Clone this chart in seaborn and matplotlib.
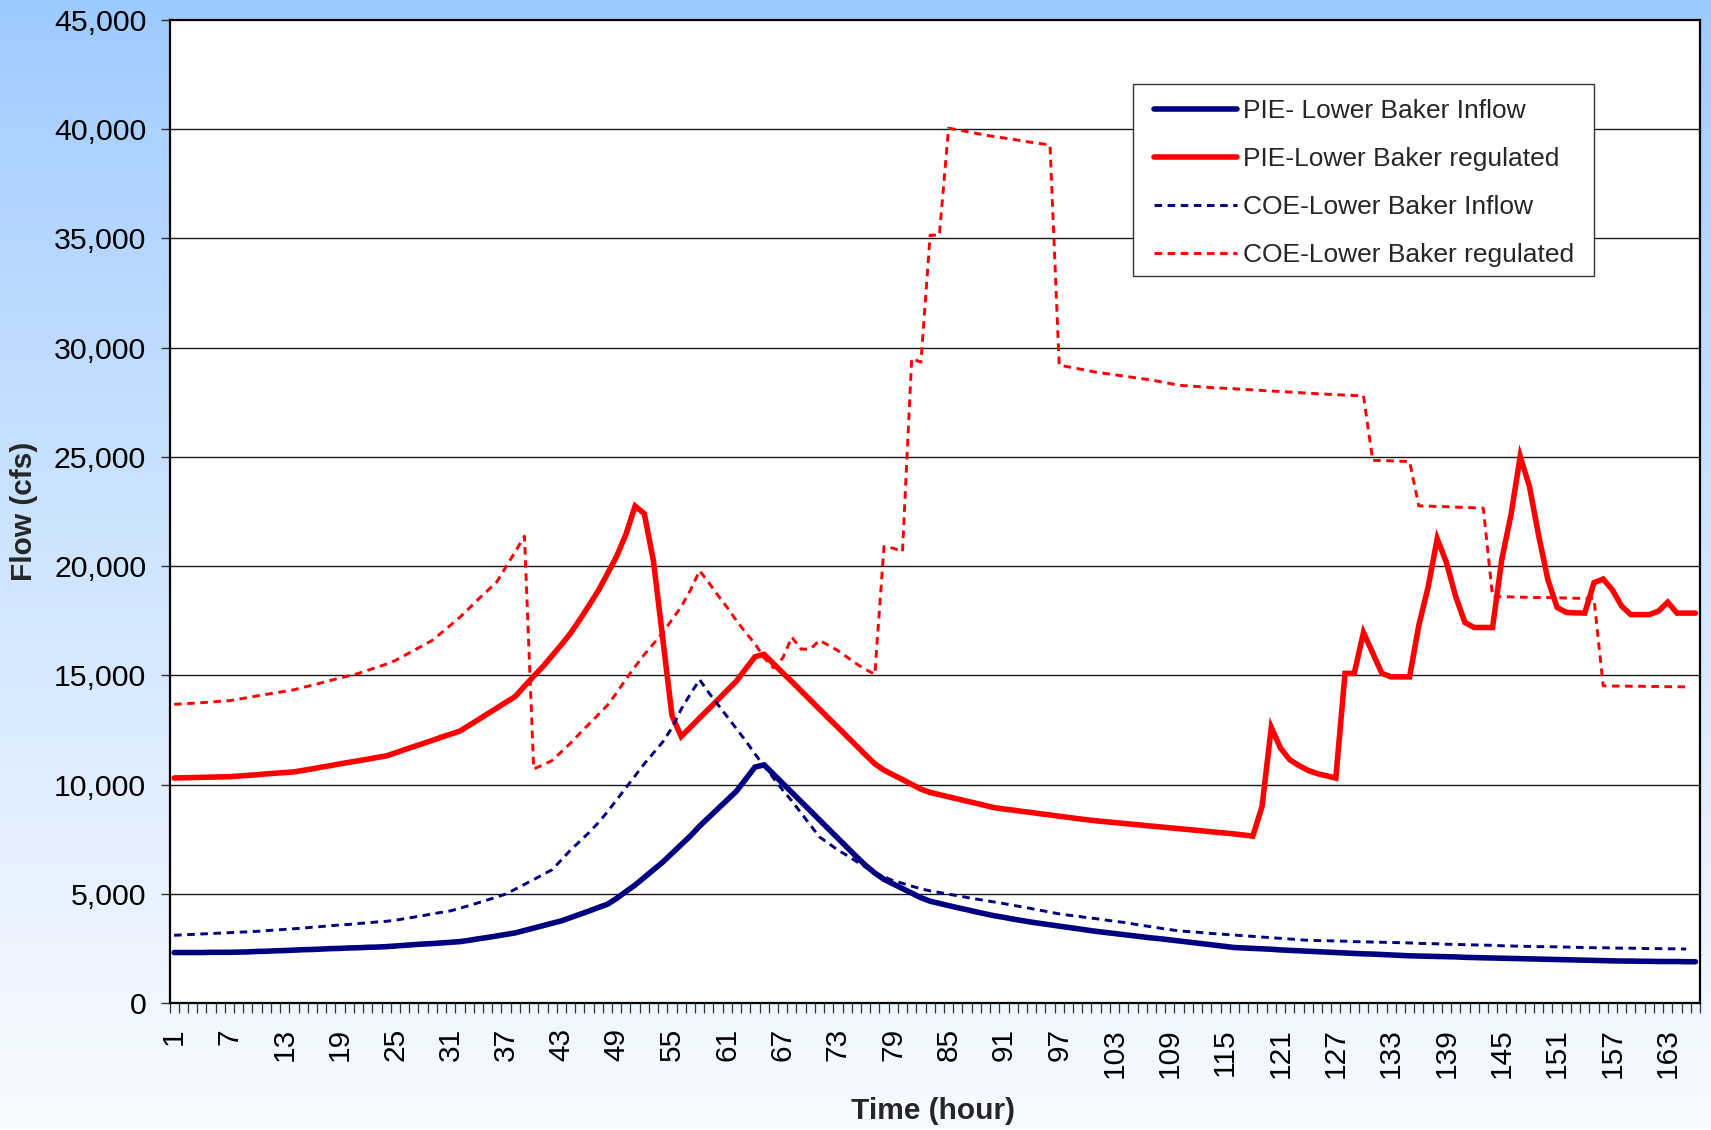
import numpy as np
import pandas as pd
import matplotlib
matplotlib.use("Agg")
import matplotlib.pyplot as plt
from matplotlib.patches import Rectangle
from matplotlib.ticker import FixedLocator, FuncFormatter
import seaborn as sns

# ---------------------------------------------------------------- data
hours = list(range(1, 167))
x_tick_labels = [str(h) for h in range(1, 167, 6)]

pie_inflow = [
    2310, 2310, 2310, 2310, 2320, 2320, 2320, 2330, 2340, 2360,
    2370, 2390, 2400, 2420, 2440, 2450, 2470, 2490, 2500, 2520,
    2530, 2550, 2560, 2580, 2610, 2640, 2670, 2700, 2720, 2750,
    2780, 2810, 2870, 2940, 3000, 3070, 3140, 3210, 3320, 3430,
    3540, 3650, 3760, 3910, 4060, 4210, 4370, 4520, 4790, 5100,
    5400, 5750, 6100, 6450, 6850, 7250, 7650, 8100, 8500, 8900,
    9300, 9700, 10250, 10800, 10900, 10480, 10060, 9640, 9220, 8800,
    8380, 7960, 7540, 7120, 6700, 6300, 5950, 5660, 5450, 5240,
    5030, 4820, 4660, 4560, 4460, 4360, 4270, 4170, 4080, 3990,
    3920, 3840, 3770, 3700, 3640, 3580, 3520, 3460, 3400, 3340,
    3280, 3230, 3180, 3130, 3080, 3030, 2980, 2940, 2890, 2840,
    2790, 2740, 2690, 2640, 2590, 2540, 2520, 2500, 2480, 2460,
    2430, 2410, 2390, 2370, 2350, 2330, 2310, 2290, 2270, 2250,
    2240, 2220, 2200, 2180, 2160, 2150, 2140, 2130, 2120, 2110,
    2090, 2080, 2070, 2060, 2050, 2040, 2030, 2020, 2010, 2000,
    1990, 1980, 1970, 1960, 1950, 1940, 1930, 1920, 1920, 1910,
    1910, 1900, 1900, 1900, 1890, 1890,
]

pie_regulated = [
    10300, 10310, 10320, 10330, 10340, 10350, 10360, 10390, 10420, 10450,
    10490, 10520, 10550, 10580, 10650, 10720, 10800, 10870, 10950, 11020,
    11090, 11160, 11240, 11310, 11450, 11600, 11740, 11880, 12020, 12170,
    12310, 12450, 12710, 12970, 13240, 13500, 13770, 14030, 14500, 14960,
    15400, 15900, 16400, 16930, 17550, 18200, 18870, 19650, 20450, 21450,
    22750, 22400, 20200, 16700, 13160, 12200, 12620, 13050, 13470, 13890,
    14320, 14740, 15300, 15850, 15960, 15540, 15120, 14710, 14290, 13870,
    13450, 13030, 12620, 12200, 11780, 11360, 10950, 10660, 10440, 10230,
    10010, 9790, 9640, 9540, 9440, 9340, 9240, 9140, 9040, 8940,
    8880, 8830, 8770, 8720, 8660, 8610, 8550, 8500, 8440, 8390,
    8340, 8300, 8260, 8220, 8180, 8140, 8100, 8060, 8020, 7980,
    7940, 7900, 7860, 7820, 7780, 7740, 7690, 7640, 9000, 12620,
    11670, 11140, 10870, 10650, 10500, 10400, 10300, 15090, 15090, 16960,
    16030, 15090, 14930, 14930, 14930, 17280, 19020, 21250, 20160, 18610,
    17420, 17190, 17190, 17190, 20300, 22350, 25020, 23650, 21400, 19380,
    18110, 17880, 17860, 17850, 19240, 19410, 18910, 18170, 17780, 17780,
    17780, 17940, 18350, 17850, 17850, 17850,
]

coe_inflow = [
    3100, 3120, 3140, 3160, 3180, 3200, 3220, 3240, 3260, 3280,
    3310, 3340, 3370, 3400, 3430, 3470, 3500, 3540, 3570, 3600,
    3640, 3670, 3710, 3740, 3790, 3860, 3930, 4000, 4080, 4150,
    4220, 4340, 4460, 4590, 4720, 4850, 4990, 5210, 5430, 5650,
    5880, 6100, 6550, 7000, 7400, 7800, 8250, 8750, 9300, 9850,
    10400, 10950, 11450, 11950, 12600, 13450, 14150, 14800, 14200, 13650,
    13100, 12550, 12000, 11400, 10850, 10300, 9750, 9250, 8700, 8150,
    7600, 7300, 7000, 6750, 6480, 6220, 5950, 5780, 5600, 5480,
    5350, 5230, 5130, 5060, 4980, 4910, 4830, 4760, 4690, 4620,
    4550, 4470, 4400, 4320, 4240, 4160, 4080, 4020, 3970, 3910,
    3860, 3800, 3740, 3690, 3620, 3550, 3490, 3420, 3360, 3300,
    3270, 3240, 3200, 3170, 3140, 3110, 3080, 3050, 3020, 2990,
    2960, 2930, 2900, 2870, 2860, 2850, 2840, 2830, 2810, 2800,
    2790, 2780, 2770, 2760, 2750, 2730, 2720, 2710, 2690, 2680,
    2670, 2660, 2650, 2640, 2620, 2610, 2600, 2590, 2580, 2580,
    2570, 2560, 2550, 2540, 2530, 2530, 2520, 2510, 2510, 2500,
    2490, 2490, 2480, 2480, 2470, np.nan,
]

coe_regulated = [
    13670, 13700, 13720, 13750, 13780, 13810, 13840, 13910, 13980, 14060,
    14130, 14200, 14270, 14340, 14450, 14550, 14660, 14770, 14880, 14980,
    15090, 15230, 15370, 15510, 15680, 15910, 16140, 16370, 16600, 16950,
    17300, 17660, 18070, 18490, 18880, 19280, 19970, 20660, 21370, 10710,
    10900, 11100, 11500, 11900, 12340, 12770, 13200, 13630, 14200, 14820,
    15400, 15950, 16450, 16950, 17550, 18140, 18900, 19790, 19240, 18650,
    18100, 17500, 16950, 16450, 15800, 15350, 15780, 16750, 16200, 16200,
    16600, 16370, 16130, 15830, 15530, 15270, 15050, 20900, 20820, 20660,
    29500, 29340, 35150, 35150, 40050, 39970, 39890, 39810, 39730, 39660,
    39600, 39540, 39460, 39400, 39340, 39280, 29200, 29120, 29040, 28960,
    28880, 28820, 28760, 28700, 28640, 28580, 28520, 28440, 28360, 28280,
    28250, 28220, 28190, 28160, 28140, 28120, 28090, 28070, 28040, 28020,
    27990, 27970, 27940, 27920, 27890, 27870, 27850, 27830, 27810, 27800,
    24840, 24830, 24820, 24800, 24790, 22760, 22750, 22730, 22720, 22700,
    22690, 22670, 22650, 18610, 18600, 18590, 18580, 18570, 18560, 18560,
    18550, 18540, 18530, 18520, 18520, 14520, 14510, 14510, 14500, 14500,
    14490, 14490, 14480, 14480, 14470, np.nan,
]

series_names = [
    "PIE- Lower Baker Inflow",
    "PIE-Lower Baker regulated",
    "COE-Lower Baker Inflow",
    "COE-Lower Baker regulated",
]
y_ticks = list(range(0, 45001, 5000))

# ---------------------------------------------------------------- style
sns.set_style("white")
plt.rcParams["font.family"] = ["Liberation Sans", "DejaVu Sans"]

NAVY = "#000080"
RED = "#FF0000"
styles = [
    dict(color=NAVY, linewidth=4.0, linestyle="-"),
    dict(color=RED, linewidth=4.0, linestyle="-"),
    dict(color=NAVY, linewidth=2.1, linestyle=(0, (2.6, 1.9))),
    dict(color=RED, linewidth=2.1, linestyle=(0, (2.6, 1.9))),
]

W, H = 1711, 1130
fig = plt.figure(figsize=(W / 100, H / 100), dpi=100)

# soft blue-to-white backdrop behind the chart
bg = fig.add_axes([0, 0, 1, 1], zorder=0)
t = np.linspace(0, 1, 512)[:, None] ** 0.85
top = np.array([0.61, 0.79, 1.0])
bot = np.array([0.975, 0.985, 1.0])
grad = top[None, None, :] * (1 - t[:, :, None]) + bot[None, None, :] * t[:, :, None]
grad = np.repeat(grad, 4, axis=1)
bg.imshow(grad, aspect="auto", extent=[0, 1, 0, 1], interpolation="bilinear")
bg.set_axis_off()

left, right, top_px, bottom_px = 169.5, 1700.0, 20.0, 1003.0
ax = fig.add_axes([left / W, 1 - bottom_px / H, (right - left) / W, (bottom_px - top_px) / H],
                  zorder=1)
ax.set_facecolor("white")

df = pd.DataFrame({"hour": hours})
for name, vals in zip(series_names, [pie_inflow, pie_regulated, coe_inflow, coe_regulated]):
    df[name] = vals

for name, st in zip(series_names, styles):
    sub = df[["hour", name]].dropna()
    sns.lineplot(data=sub, x="hour", y=name, ax=ax, label=name, estimator=None,
                 sort=False, solid_joinstyle="miter", **st)

ax.set_xlim(0.5, 166.5)
ax.set_ylim(0, 45000)

# horizontal gridlines
ax.set_yticks(y_ticks)
ax.yaxis.set_major_formatter(FuncFormatter(lambda v, p: f"{int(v):,}"))
ax.grid(False)
for yv in y_ticks[1:-1]:
    ax.axhline(yv, color="#1a1a1a", linewidth=1.0, zorder=0.5)

# category axis: ticks between hours, labels every 6 hours
ax.xaxis.set_major_locator(FixedLocator(list(range(1, 167, 6))))
ax.set_xticklabels(x_tick_labels, rotation=90)
ax.xaxis.set_minor_locator(FixedLocator(list(np.arange(0.5, 167, 1.0))))
ax.tick_params(axis="x", which="major", length=0, pad=18, labelsize=21.5, colors="black")
ax.tick_params(axis="x", which="minor", length=7.5, width=0.9, direction="out",
               color="#333333", bottom=True)
ax.tick_params(axis="y", which="major", length=6.8, width=1.0, direction="out",
               color="#333333", left=True, pad=10, labelsize=21.8, labelcolor="black")

for sp in ax.spines.values():
    sp.set_visible(True)
    sp.set_color("black")
    sp.set_linewidth(1.6)

ax.set_xlabel("Time (hour)", fontsize=21.5, fontweight="bold", va="center")
ax.set_ylabel("Flow (cfs)", fontsize=21.5, fontweight="bold", va="center")
ax.xaxis.set_label_coords((855 * 1711 / 1568 - left) / (right - left),
                          -(1111 - bottom_px) / (bottom_px - top_px))
ax.yaxis.set_label_coords(-(left - 24) / (right - left), 0.5)

# legend box with a plain square frame
frame = Rectangle((1133 / W, 1 - 276 / H), 461 / W, 192 / H, transform=fig.transFigure,
                  facecolor="white", edgecolor="#333333", linewidth=1.0,
                  zorder=4.5, clip_on=False)
ax.add_patch(frame)
leg = ax.legend(loc="upper left", bbox_to_anchor=(1154 / W, 1 - 99.5 / H),
                bbox_transform=fig.transFigure, borderaxespad=0, borderpad=0,
                fontsize=19, frameon=False, handlelength=3.15, handletextpad=0.23,
                labelspacing=0.9)
leg.set_zorder(5)

fig.savefig("out.png", dpi=100)
